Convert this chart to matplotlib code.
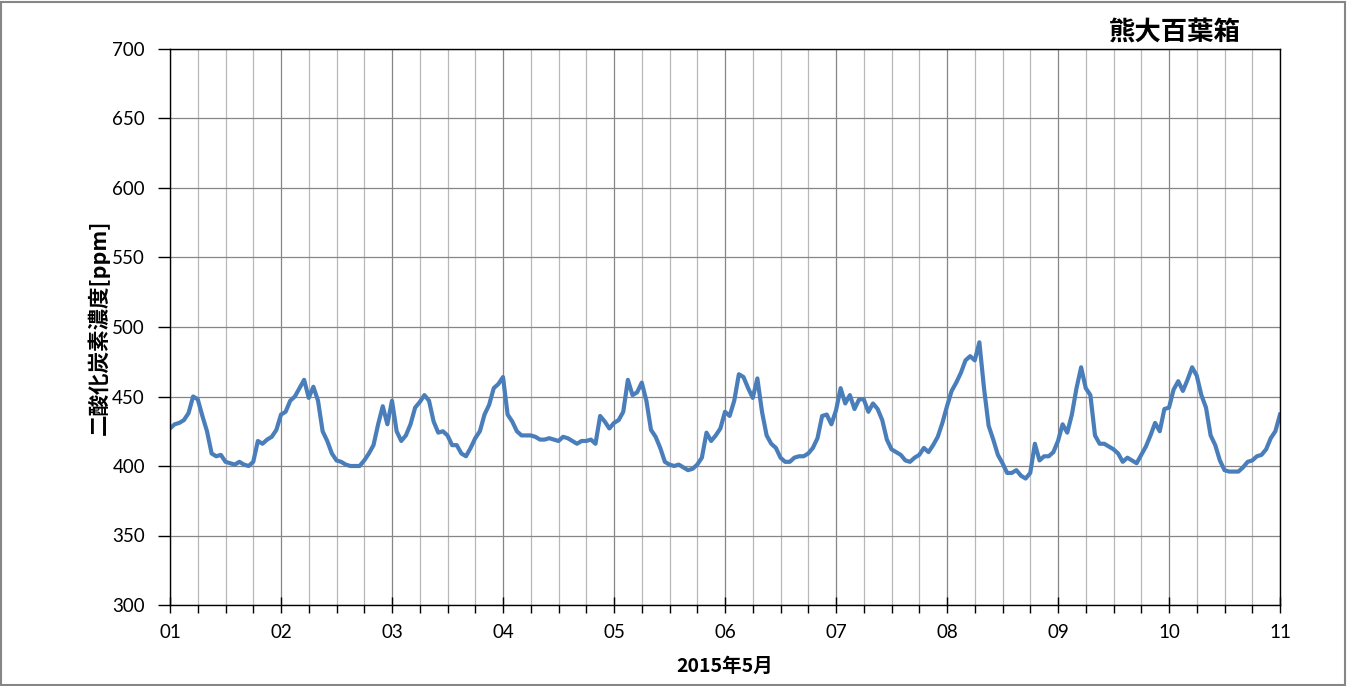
import matplotlib.pyplot as plt
from matplotlib.ticker import MultipleLocator, FixedLocator
from matplotlib.patches import Rectangle
import numpy as np

plt.rcParams['font.family'] = ['Lato', 'Noto Sans CJK JP', 'DejaVu Sans']

# hourly CO2 readings [ppm], May 1 00:00 -> May 11 00:00
day01 = [427, 430, 431, 433, 438, 450, 448, 436, 425, 409, 407, 408,
         403, 402, 401, 403, 401, 400, 403, 418, 416, 419, 421, 426]
day02 = [437, 439, 447, 450, 456, 462, 449, 457, 447, 425, 418, 409,
         404, 403, 401, 400, 400, 400, 404, 409, 415, 430, 443, 430]
day03 = [447, 425, 418, 422, 430, 442, 446, 451, 447, 432, 424, 425,
         422, 415, 415, 409, 407, 413, 420, 425, 437, 444, 456, 459]
day04 = [464, 437, 432, 425, 422, 422, 422, 421, 419, 419, 420, 419,
         418, 421, 420, 418, 416, 418, 418, 419, 416, 436, 432, 427]
day05 = [431, 433, 439, 462, 451, 453, 460, 447, 426, 421, 413, 403,
         401, 400, 401, 399, 397, 398, 401, 406, 424, 418, 422, 427]
day06 = [439, 436, 447, 466, 464, 456, 449, 463, 439, 422, 416, 413,
         406, 403, 403, 406, 407, 407, 409, 413, 420, 436, 437, 430]
day07 = [440, 456, 445, 451, 441, 448, 448, 439, 445, 441, 433, 419,
         412, 410, 408, 404, 403, 406, 408, 413, 410, 415, 421, 431]
day08 = [443, 454, 460, 467, 476, 479, 476, 489, 456, 429, 419, 408,
         402, 395, 395, 397, 393, 391, 395, 416, 404, 407, 407, 410]
day09 = [418, 430, 424, 437, 456, 471, 456, 451, 422, 416, 416, 414,
         412, 409, 403, 406, 404, 402, 408, 414, 422, 431, 425, 441]
day10 = [442, 455, 461, 454, 462, 471, 465, 451, 442, 422, 415, 404,
         397, 396, 396, 396, 399, 403, 404, 407, 408, 412, 420, 425]
day11 = [437]

co2 = day01 + day02 + day03 + day04 + day05 + day06 + day07 + day08 + day09 + day10 + day11
t = np.arange(len(co2)) / 24.0 + 1

day_labels = ['01', '02', '03', '04', '05', '06', '07', '08', '09', '10', '11']

fig = plt.figure(figsize=(13.48, 6.86), dpi=100)
ax = fig.add_axes([170/1348, 1 - 605/686, 1110/1348, 556/686])

ax.plot(t, co2, color='#4A7EBB', linewidth=3.0, solid_joinstyle='round')

ax.set_xlim(1, 11)
ax.set_ylim(300, 700)
ax.xaxis.set_major_locator(FixedLocator(range(1, 12)))
ax.set_xticklabels(day_labels)
ax.xaxis.set_minor_locator(MultipleLocator(0.25))
ax.yaxis.set_major_locator(MultipleLocator(50))

ax.grid(which='major', color='#868686', linewidth=0.9)
ax.grid(which='minor', axis='x', color='#B8B8B8', linewidth=0.9)
ax.set_axisbelow(True)

ax.tick_params(axis='x', which='major', direction='inout', length=12, width=1, labelsize=13.5, pad=8)
ax.tick_params(axis='x', which='minor', direction='out', length=6, width=1)
ax.tick_params(axis='y', which='major', direction='out', length=9, width=1, labelsize=13.5, pad=9)
for s in ax.spines.values():
    s.set_color('black')
    s.set_linewidth(1)

ax.set_xlabel('2015年5月', fontsize=14, fontweight='bold',
              family=['Noto Sans CJK JP', 'DejaVu Sans'], labelpad=11)
ax.set_ylabel('二酸化炭素濃度[ppm]', fontsize=15.5, fontweight='bold',
              family=['Noto Sans CJK JP', 'DejaVu Sans'], labelpad=2)

fig.text(1175/1348, 1 - 32/686, '熊大百葉箱', fontsize=19, fontweight='bold',
         family=['Noto Sans CJK JP', 'DejaVu Sans'], ha='center', va='center')

fig.patches.append(Rectangle((0.001, 0.002), 0.997, 0.995, transform=fig.transFigure,
                             fill=False, edgecolor='#868686', linewidth=1.5))

fig.savefig('out.png', dpi=100)
